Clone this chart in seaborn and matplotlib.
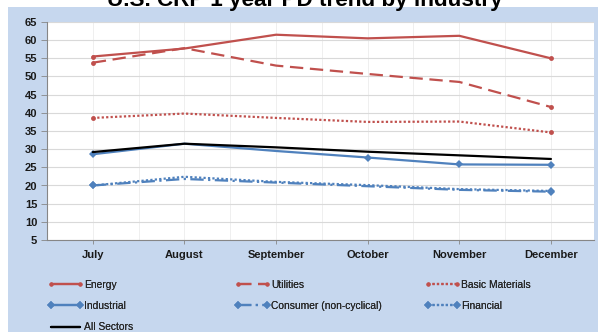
import matplotlib
matplotlib.use("Agg")
import matplotlib.pyplot as plt
from matplotlib.lines import Line2D
from matplotlib.patches import Rectangle
import seaborn as sns

months = ["July", "August", "September", "October", "November", "December"]

energy = [55.5, 57.7, 61.5, 60.5, 61.2, 55.0]
utilities = [53.8, 57.8, 53.0, 50.7, 48.5, 41.6]
basic_materials = [38.6, 39.8, 38.6, 37.5, 37.6, 34.6]
industrial = [28.6, 31.5, 29.5, 27.7, 25.8, 25.7]
consumer = [20.0, 21.8, 20.8, 19.8, 18.8, 18.3]
financial = [20.0, 22.4, 21.0, 20.1, 19.0, 18.5]
all_sectors = [29.2, 31.5, 30.5, 29.3, 28.3, 27.3]

title = "U.S. CRP 1 year PD trend by industry"

RED = "#c0504d"
BLUE = "#4f81bd"
BG = "#c6d7ee"

sns.set_theme(style="white")
plt.rcParams["font.family"] = ["Liberation Sans", "DejaVu Sans"]

fig = plt.figure(figsize=(5.98, 3.32), dpi=100)
fig.patch.set_facecolor("white")
fig.patches.append(Rectangle((8 / 598, 0), 1, 1 - 7 / 332, transform=fig.transFigure,
                             facecolor=BG, edgecolor="none", zorder=-10))

ax = fig.add_axes([47 / 598, 1 - 240 / 332, (594 - 47) / 598, (240 - 22) / 332])
ax.set_facecolor("white")

series = [
    ("Energy", energy, RED, "-", "o", 3.5, [0, 5]),
    ("Utilities", utilities, RED, (0, (6, 3)), "o", 3.5, [0, 5]),
    ("Basic Materials", basic_materials, RED, (0, (1, 1)), "o", 3.5, [0, 5]),
    ("Industrial", industrial, BLUE, "-", "D", 4.5, [0, 3, 4, 5]),
    ("Consumer (non-cyclical)", consumer, BLUE, (0, (6, 2, 1, 2)), "D", 4.5, [0, 5]),
    ("Financial", financial, BLUE, (0, (1, 1)), "D", 4.5, [0, 5]),
    ("All Sectors", all_sectors, "black", "-", None, 0, None),
]

xs = list(range(len(months)))
for name, vals, color, ls, mk, ms, every in series:
    kw = dict(marker=mk, markersize=ms, markevery=every, markeredgewidth=0) if mk else {}
    sns.lineplot(x=xs, y=vals, ax=ax, color=color, linestyle=ls, linewidth=1.6,
                 sort=False, legend=False, **kw)

ax.set_xlim(-0.49, 5.47)
ax.set_ylim(5, 65)
ax.set_yticks(range(5, 66, 5))
ax.set_xticks(xs)
ax.set_xticklabels(months)
ax.set_xticks([x + 0.5 for x in xs[:-1]] + [-0.5], minor=True)

ax.grid(True, axis="y", which="major", color="#d9d9d9", linewidth=0.8)
ax.grid(True, axis="x", which="both", color="#ececec", linewidth=0.6)
ax.set_axisbelow(True)

for s in ["top", "right"]:
    ax.spines[s].set_visible(False)
for s in ["left", "bottom"]:
    ax.spines[s].set_color("#868686")
    ax.spines[s].set_linewidth(0.8)

ax.tick_params(axis="y", which="major", left=True, length=4, width=0.6, color="#868686",
               labelsize=8, pad=3)
ax.tick_params(axis="x", which="major", bottom=True, length=3, width=0.6, color="#868686",
               labelsize=8, pad=4)
ax.tick_params(axis="x", which="minor", bottom=False)
for lbl in ax.get_xticklabels() + ax.get_yticklabels():
    lbl.set_fontweight("bold")
    lbl.set_color("#1a1a1a")

# Title sits at the very top edge of the figure, partly above it
fig.text(305 / 598, 1 - 6 / 332, title, ha="center", va="baseline", fontsize=16.2,
         fontweight="bold", color="black")


def handle(color, ls, mk, ms):
    if mk:
        return Line2D([], [], color=color, linestyle=ls, linewidth=1.6, marker=mk,
                      markersize=ms * 0.85, markeredgewidth=0)
    return Line2D([], [], color=color, linestyle=ls, linewidth=1.6)


columns = [(48, [0, 3, 6]), (235, [1, 4]), (425, [2, 5])]
for x0, idxs in columns:
    hs = [handle(series[i][2], series[i][3], series[i][4], series[i][5]) for i in idxs]
    labs = [series[i][0] for i in idxs]
    leg = fig.legend(hs, labs, loc="upper left", bbox_to_anchor=(x0 / 598, 1 - 279.5 / 332),
                     frameon=False, fontsize=7.4, handlelength=3.4, handletextpad=0.15,
                     labelspacing=1.1, borderaxespad=0, borderpad=0, numpoints=2)
    fig.add_artist(leg)

fig.savefig("out.png", dpi=100, facecolor=fig.get_facecolor())
